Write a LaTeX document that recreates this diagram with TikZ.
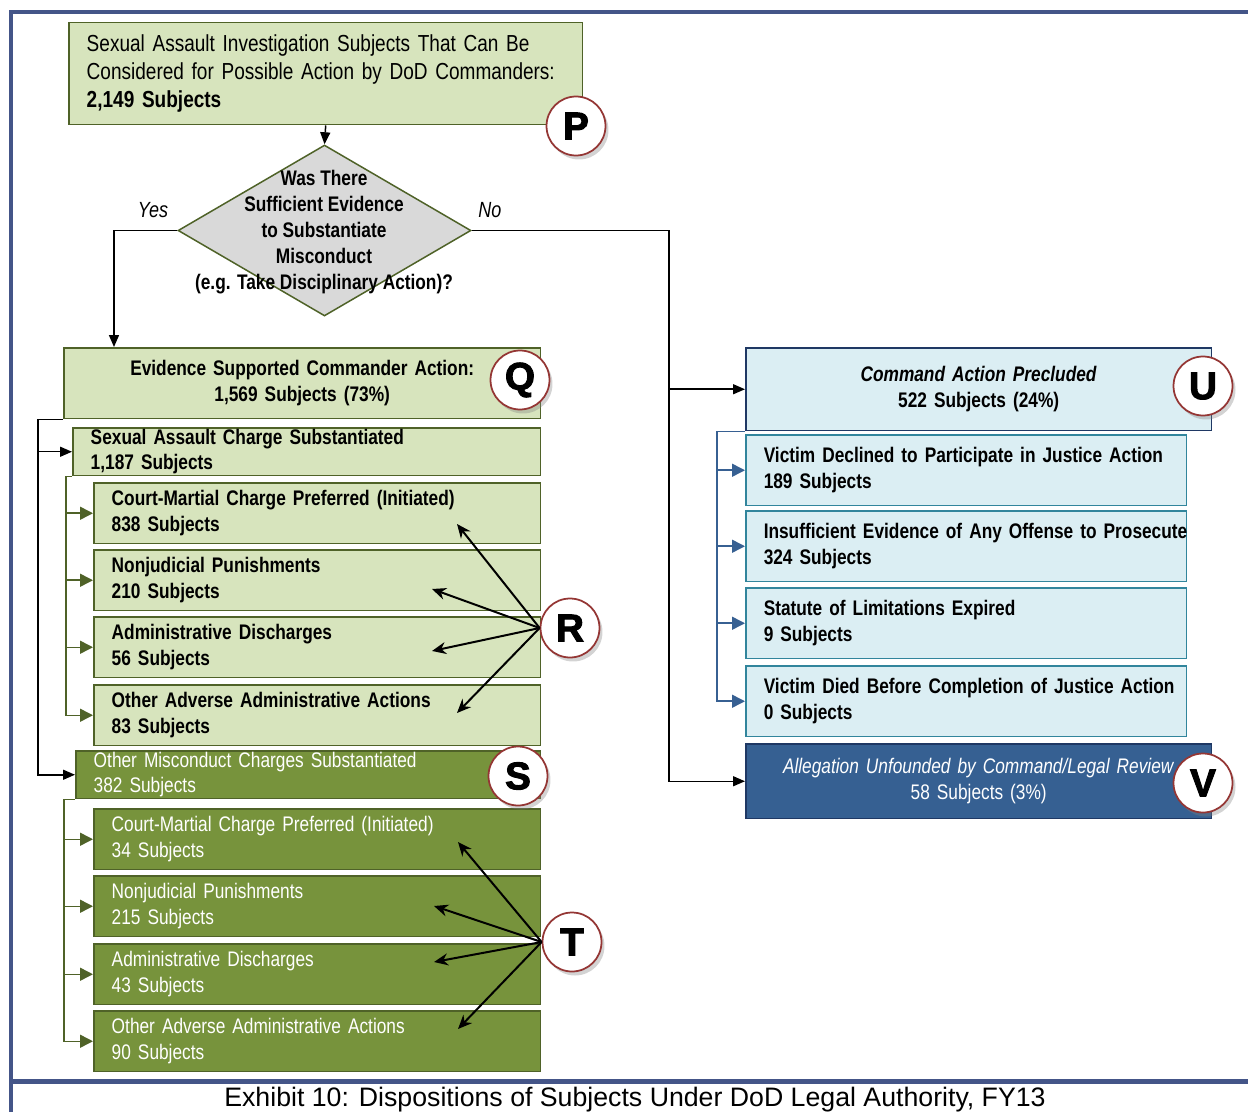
\documentclass[tikz,border=0pt]{standalone}
\usepackage{fontspec}
\setmainfont{Liberation Sans}[FakeStretch=0.82]
\newfontfamily\capfont{Liberation Sans}
\newfontfamily\markfont{Liberation Sans}[BoldFeatures={FakeBold=2.5}]
\usetikzlibrary{arrows.meta,shapes.geometric,shadows}
\definecolor{lgreen}{HTML}{D7E4BD}
\definecolor{dgreen}{HTML}{77933C}
\definecolor{olive}{HTML}{4F6228}
\definecolor{lgray}{HTML}{D9D9D9}
\definecolor{lblue}{HTML}{DBEEF3}
\definecolor{teal}{HTML}{31859C}
\definecolor{navy}{HTML}{1F3864}
\definecolor{steel}{HTML}{376092}
\definecolor{vblue}{HTML}{366092}
\definecolor{mred}{HTML}{943634}
\definecolor{frame}{HTML}{445588}

\begin{document}
\begin{tikzpicture}[x=0.02cm,y=-0.02cm,
  every node/.style={font=\fontsize{12}{15}\selectfont},
  box/.style={draw=olive, line width=0.3mm, anchor=north west, inner xsep=3.6mm, inner ysep=0pt, align=left},
  lbox/.style={box, fill=lgreen, font=\fontsize{12}{15}\selectfont\bfseries},
  dbox/.style={box, fill=dgreen, text=white},
  rsub/.style={lbox, minimum width=89.4mm, minimum height=12.2mm, text width=82.2mm},
  tsub/.style={dbox, minimum width=89.4mm, minimum height=12.2mm, text width=82.2mm},
  ubox/.style={box, draw=teal, fill=lblue, minimum width=88.2mm, minimum height=14.2mm, text width=81mm, font=\fontsize{12}{15}\selectfont\bfseries},
  dia/.style={diamond, draw=olive, line width=0.3mm, fill=lgray, inner sep=0pt, minimum width=58.6mm, minimum height=34.2mm},
  badge/.style={circle, draw=mred, line width=0.35mm, fill=white, minimum size=11.8mm, inner sep=0pt,
    font=\markfont\bfseries\fontsize{22}{22}\selectfont, drop shadow={opacity=0.35, shadow xshift=0.6mm, shadow yshift=-0.8mm}},
  blk/.style={draw=black, line width=0.3mm, -{Triangle[length=2.4mm,width=2mm]}},
  gln/.style={draw=olive, line width=0.3mm, -{Triangle[length=2.6mm,width=2.6mm]}},
  bln/.style={draw=steel, line width=0.3mm, -{Triangle[length=2.6mm,width=2.6mm]}},
  arw/.style={draw=black, line width=0.4mm, -{Stealth[length=2.8mm,width=2.4mm]}}]
  \useasboundingbox (0,0) rectangle (1248,1112);
  % frame and caption
  \draw[frame, line width=1mm] (11,1112) -- (11,12) -- (1248,12);
  \draw[frame, line width=1mm] (11,1081) -- (1248,1081);
  \node[font=\capfont\fontsize{15.2}{16}\selectfont, anchor=base] (cap) at (635,1106) {Exhibit 10: Dispositions of Subjects Under DoD Legal Authority, FY13};

  % top and decision
  \node[lbox, minimum width=102.8mm, minimum height=20.4mm, text width=95.6mm, font=\fontsize{13.2}{16}\selectfont] (p) at (68,22)
    {Sexual Assault Investigation Subjects That Can Be\\Considered for Possible Action by DoD Commanders:\\\textbf{2,149 Subjects}};
  \node[dia] (dq) at (324.5,230.5) {};
  \node[font=\fontsize{12}{14.7}\selectfont\bfseries, align=center] (dqt) at (324,232)
    {Was There\\Sufficient Evidence\\to Substantiate\\Misconduct\\(e.g. Take Disciplinary Action)?};
  \node[font=\fontsize{12.5}{15}\selectfont\itshape] (yes) at (153,210) {Yes};
  \node[font=\fontsize{12.5}{15}\selectfont\itshape] (no) at (490,210) {No};

  % substantiated side
  \node[lbox, minimum width=95.4mm, minimum height=14.2mm, align=center, text width=88mm] (q) at (63,347)
    {Evidence Supported Commander Action:\\1,569 Subjects (73\%)};
  \node[lbox, minimum width=93.6mm, minimum height=9.6mm, text width=86.4mm, font=\fontsize{12}{14.5}\selectfont\bfseries] (sa) at (72,427)
    {Sexual Assault Charge Substantiated\\1,187 Subjects};
  \node[rsub] (r1) at (93,482) {Court-Martial Charge Preferred (Initiated)\\838 Subjects};
  \node[rsub] (r2) at (93,549) {Nonjudicial Punishments\\210 Subjects};
  \node[rsub] (r3) at (93,616) {Administrative Discharges\\56 Subjects};
  \node[rsub] (r4) at (93,684) {Other Adverse Administrative Actions\\83 Subjects};
  \node[dbox, minimum width=93mm, minimum height=9.6mm, text width=85.8mm, font=\fontsize{12}{14.5}\selectfont] (om) at (75,750)
    {Other Misconduct Charges Substantiated\\382 Subjects};
  \node[tsub] (t1) at (93,808) {Court-Martial Charge Preferred (Initiated)\\34 Subjects};
  \node[tsub] (t2) at (93,875) {Nonjudicial Punishments\\215 Subjects};
  \node[tsub] (t3) at (93,943) {Administrative Discharges\\43 Subjects};
  \node[tsub] (t4) at (93,1010) {Other Adverse Administrative Actions\\90 Subjects};

  % precluded side
  \node[box, draw=navy, fill=lblue, minimum width=93.2mm, minimum height=16.6mm, align=center, text width=86mm, font=\fontsize{12}{15}\selectfont\bfseries] (u) at (745,347)
    {\textit{Command Action Precluded}\\522 Subjects (24\%)};
  \node[ubox] (u1) at (745,434) {\mbox{Victim Declined to Participate in Justice Action}\\189 Subjects};
  \node[ubox] (u2) at (745,510) {\mbox{Insufficient Evidence of Any Offense to Prosecute}\\324 Subjects};
  \node[ubox] (u3) at (745,587) {Statute of Limitations Expired\\9 Subjects};
  \node[ubox] (u4) at (745,665) {\mbox{Victim Died Before Completion of Justice Action}\\0 Subjects};
  \node[box, draw=navy, fill=vblue, text=white, minimum width=93.2mm, minimum height=15mm, align=center, text width=86mm] (v) at (745,743)
    {\textit{Allegation Unfounded by Command/Legal Review}\\58 Subjects (3\%)};

  % connectors
  \draw[blk] (p.south) -- (dq.north);
  \draw[blk] (dq.west) -| ([xshift=10.2mm]q.north west);
  \coordinate (nobend) at ([xshift=39.5mm]dq.east);
  \draw[blk] (dq.east) -- (nobend) |- (v.west);
  \draw[blk] (nobend |- u.west) -- (u.west);
  \coordinate (qbend) at ([xshift=-5mm]q.south west);
  \draw[blk] (q.south west) -- (qbend) |- (om.west);
  \draw[blk] (qbend |- sa.west) -- (sa.west);
  \coordinate (sabend) at ([xshift=-1.2mm]sa.south west);
  \draw[gln] (sa.south west) -- (sabend) |- (r4.west);
  \foreach \k in {1,2,3} \draw[gln] (sabend |- r\k.west) -- (r\k.west);
  \coordinate (ombend) at ([xshift=-2.2mm]om.south west);
  \draw[gln] (om.south west) -- (ombend) |- (t4.west);
  \foreach \k in {1,2,3} \draw[gln] (ombend |- t\k.west) -- (t\k.west);
  \coordinate (ubend) at ([xshift=-5.6mm]u.south west);
  \draw[bln] (u.south west) -- (ubend) |- (u4.west);
  \foreach \k in {1,2,3} \draw[bln] (ubend |- u\k.west) -- (u\k.west);

  % letter badges
  \node[badge] (pm) at (576,126) {P};
  \node[badge] (qm) at (520,380) {Q};
  \node[badge] (rm) at (570,628) {R};
  \node[badge] (sm) at (518,776) {S};
  \node[badge] (tm) at (572,942) {T};
  \node[badge] (um) at (1203,386) {U};
  \node[badge] (vm) at (1203,783) {V};

  % pointers from R and T
  \coordinate (r1p) at (457,524); \coordinate (r2p) at (432,589);
  \coordinate (r3p) at (432,651); \coordinate (r4p) at (457,713);
  \coordinate (t1p) at (458,842); \coordinate (t2p) at (434,906);
  \coordinate (t3p) at (434,962); \coordinate (t4p) at (458,1029);
  \foreach \k in {1,2,3,4} {
    \draw[arw] (rm.west) -- (r\k p);
    \draw[arw] (tm.west) -- (t\k p);
  }
\end{tikzpicture}
\end{document}
